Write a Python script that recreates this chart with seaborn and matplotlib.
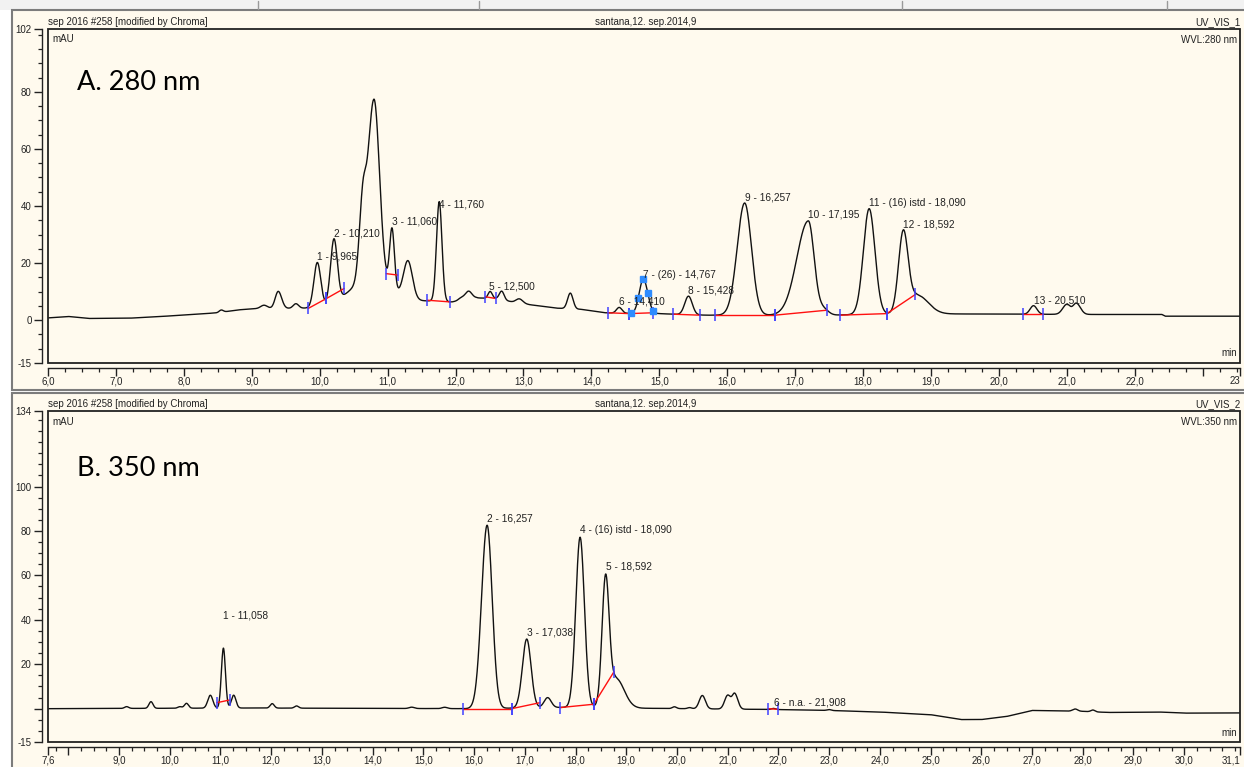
import numpy as np
import pandas as pd
import seaborn as sns
import matplotlib.pyplot as plt
from matplotlib.patches import Rectangle

# ---------- A. 280 nm ----------
# baseline drift (min, mAU)
a_base_t = [6.0, 6.3, 6.6, 7.2, 7.6, 8.0, 8.5, 8.8, 9.0, 9.8, 10.4, 11.0, 11.6, 11.95,
            12.3, 12.6, 12.85, 13.1, 13.5, 13.85, 14.2, 14.6, 15.0, 15.3, 15.7, 16.7,
            17.6, 18.35, 19.2, 20.3, 21.4, 22.4, 22.45, 23.6]
a_base_v = [0.8, 1.3, 0.6, 0.7, 1.2, 1.8, 2.6, 3.6, 4.0, 4.2, 5.0, 5.8, 6.6, 6.4,
            7.8, 7.6, 6.3, 5.4, 4.2, 3.8, 2.6, 2.35, 2.3, 2.0, 1.75, 1.75,
            1.8, 2.2, 2.2, 2.1, 2.0, 2.0, 1.4, 1.4]
# peaks: retention time, height above baseline, left / right width
a_peak_t = [8.55, 9.18, 9.39, 9.65, 9.965, 10.21, 10.63, 10.80, 10.75, 11.065, 11.30,
            11.76, 12.08, 12.19, 12.51, 12.68, 12.94, 13.69, 14.41, 14.765, 15.43,
            16.257, 17.195, 17.42, 18.09, 18.592, 18.80, 20.51, 21.0, 21.14]
a_peak_h = [0.8, 1.2, 6.0, 1.6, 15.5, 22.0, 21.0, 63.0, 9.0, 21.0, 13.0,
            35.0, 0.8, 2.8, 2.4, 3.0, 1.5, 5.5, 2.0, 12.0, 6.5,
            39.3, 33.0, 2.0, 37.0, 28.0, 6.5, 3.0, 3.5, 3.9]
a_peak_sl = [0.03, 0.05, 0.045, 0.04, 0.05, 0.05, 0.05, 0.095, 0.3, 0.035, 0.065,
             0.04, 0.04, 0.05, 0.03, 0.035, 0.05, 0.04, 0.04, 0.06, 0.055,
             0.11, 0.17, 0.07, 0.085, 0.07, 0.12, 0.05, 0.06, 0.05]
a_peak_sr = [0.03, 0.05, 0.05, 0.04, 0.05, 0.05, 0.045, 0.08, 0.3, 0.035, 0.065,
             0.04, 0.04, 0.05, 0.03, 0.035, 0.05, 0.04, 0.04, 0.065, 0.055,
             0.10, 0.085, 0.07, 0.085, 0.07, 0.16, 0.05, 0.05, 0.06]
a_labels = ["1 - 9,965", "2 - 10,210", "3 - 11,060", "4 - 11,760", "5 - 12,500",
            "6 - 14,410", "7 - (26) - 14,767", "8 - 15,428", "9 - 16,257",
            "10 - 17,195", "11 - (16) istd - 18,090", "12 - 18,592", "13 - 20,510"]
# integration baselines (start t, start mAU, end t, end mAU)
a_seg_t0 = [9.83, 10.10, 10.98, 11.58, 12.44, 14.24, 14.56, 15.20, 15.82, 16.70, 17.66, 18.35, 20.35]
a_seg_v0 = [4.1, 7.6, 16.3, 7.0, 8.2, 2.6, 2.3, 2.1, 1.75, 1.75, 1.75, 2.3, 2.1]
a_seg_t1 = [10.10, 10.36, 11.15, 11.92, 12.59, 14.56, 14.91, 15.60, 16.70, 17.47, 18.35, 18.77, 20.65]
a_seg_v1 = [7.6, 11.1, 15.8, 6.4, 7.6, 2.3, 2.6, 1.75, 1.75, 3.5, 2.3, 9.0, 2.1]
a_p7_marks = [14.58, 14.69, 14.765, 14.83, 14.91]

# ---------- B. 350 nm ----------
b_base_t = [7.6, 11.5, 16.0, 17.5, 18.4, 19.3, 22.0, 23.0, 24.0, 25.0, 25.6, 26.0,
            26.5, 27.0, 28.0, 28.5, 29.5, 30.0, 31.2]
b_base_v = [0.0, 0.3, 0.0, 0.5, 0.8, 0.2, -0.4, -0.8, -1.5, -2.7, -4.9, -4.9,
            -3.5, -0.8, -1.2, -1.7, -1.5, -2.0, -1.9]
b_peak_t = [9.15, 9.63, 10.2, 10.33, 10.80, 11.058, 11.26, 12.02, 12.5, 14.77, 15.42,
            16.257, 17.038, 17.45, 18.09, 18.592, 18.80, 19.95, 20.25, 20.5, 21.0,
            21.14, 21.9, 23.0, 27.85, 28.2]
b_peak_h = [0.8, 3.0, 0.7, 2.2, 5.8, 27.0, 5.8, 2.0, 1.0, 0.6, 0.6,
            82.5, 31.0, 4.5, 76.5, 57.0, 13.0, 0.8, 0.5, 6.0, 6.2,
            6.8, 0.5, 0.4, 1.0, 0.8]
b_peak_sl = [0.04, 0.04, 0.04, 0.04, 0.05, 0.04, 0.045, 0.04, 0.04, 0.05, 0.05,
             0.11, 0.085, 0.07, 0.085, 0.07, 0.12, 0.04, 0.04, 0.06, 0.06,
             0.05, 0.04, 0.04, 0.05, 0.04]
b_peak_sr = [0.04, 0.04, 0.04, 0.04, 0.05, 0.04, 0.045, 0.04, 0.04, 0.05, 0.05,
             0.10, 0.085, 0.07, 0.085, 0.07, 0.16, 0.04, 0.04, 0.06, 0.06,
             0.06, 0.04, 0.04, 0.05, 0.04]
b_labels = ["1 - 11,058", "2 - 16,257", "3 - 17,038", "4 - (16) istd - 18,090",
            "5 - 18,592", "6 - n.a. - 21,908"]
b_seg_t0 = [10.93, 15.78, 16.74, 17.70, 18.36, 21.80]
b_seg_v0 = [2.7, 0.0, 0.0, 0.5, 2.0, 0.0]
b_seg_t1 = [11.18, 16.74, 17.30, 18.36, 18.76, 22.00]
b_seg_v1 = [3.9, 0.0, 2.7, 2.0, 16.7, -0.3]

# label lift above the apex, pixels
a_lift = [3.4, 2, 3, -6, 2, 3, 1.3, 2.3, 2.6, 3.3, 3, 2.4, 2]
b_lift = [30, 4, 3.6, 4, 4, 2.5]

W, H = 1244, 767
CREAM = '#FFFAEE'
sns.set_theme(style="white")
plt.rcParams['font.family'] = ['Liberation Sans', 'DejaVu Sans']


def signal(t, base_t, base_v, pt, ph, psl, psr):
    y = np.interp(t, base_t, base_v)
    for c, h, sl, sr in zip(pt, ph, psl, psr):
        s = np.where(t < c, sl, sr)
        y = y + h * np.exp(-0.5 * ((t - c) / s) ** 2)
    return y


def px_axes(x0, y0, x1, y1):
    return fig.add_axes([x0 / W, 1 - y1 / H, (x1 - x0) / W, (y1 - y0) / H])


def fig_rect(x0, y0, x1, y1, **kw):
    fig.add_artist(Rectangle((x0 / W, 1 - y1 / H), (x1 - x0) / W, (y1 - y0) / H,
                             transform=fig.transFigure, **kw))


def fig_txt(x, y, s, **kw):
    fig.text(x / W, 1 - y / H, s, **kw)


fig = plt.figure(figsize=(W / 100, H / 100), dpi=100)
fig.patch.set_facecolor('white')

# window chrome
fig_rect(0, 0, W, 10, fc='#F2F2F2', ec='none', zorder=0)
for xl in [258, 479, 902, 1167]:
    fig.add_artist(plt.Line2D([xl / W, xl / W], [1 - 1 / H, 1 - 9 / H], color='#9a9a9a', lw=1))
fig_rect(12, 10, W + 10, 390, fc=CREAM, ec='#7c7c7c', lw=1.5, zorder=0)
fig_rect(12, 393, W + 10, H + 10, fc=CREAM, ec='#7c7c7c', lw=1.5, zorder=0)

axA = px_axes(48, 29, 1240, 363)
axB = px_axes(48, 411, 1240, 742)

panels = [
    (axA, a_base_t, a_base_v, a_peak_t, a_peak_h, a_peak_sl, a_peak_sr, (6.0, 23.55), (-15, 102),
     a_labels, a_lift, (a_seg_t0, a_seg_v0, a_seg_t1, a_seg_v1)),
    (axB, b_base_t, b_base_v, b_peak_t, b_peak_h, b_peak_sl, b_peak_sr, (7.6, 31.1), (-15, 134),
     b_labels, b_lift, (b_seg_t0, b_seg_v0, b_seg_t1, b_seg_v1)),
]

for ax, bt, bv, pt, ph, psl, psr, xl, yl, labels, lifts, segs in panels:
    t = np.arange(xl[0], xl[1] + 0.004, 0.004)
    y = signal(t, bt, bv, pt, ph, psl, psr)
    df = pd.DataFrame({'time': t, 'mAU': y})
    sns.lineplot(data=df, x='time', y='mAU', ax=ax, color='#111111', lw=1.0,
                 estimator=None, errorbar=None, zorder=2)
    ax.set_facecolor(CREAM)
    ax.set_xlim(*xl)
    ax.set_ylim(*yl)
    ax.set_xlabel('')
    ax.set_ylabel('')

    t0, v0, t1, v1 = segs
    for a, b, c, d in zip(t0, v0, t1, v1):
        ax.plot([a, c], [b, d], color='#FF1010', lw=1.0, zorder=3)
    ends_t = list(t0) + list(t1)
    ends_v = list(v0) + list(v1)
    ax.plot(ends_t, ends_v, ls='none', marker='|', ms=8, mew=1.1, color='#4040FF', zorder=4)

    for lab, lift in zip(labels, lifts):
        rt = float(lab.split(' - ')[-1].replace(',', '.'))
        win = (t > rt - 0.04) & (t < rt + 0.04)
        top = y[win].max()
        ax.annotate(lab, xy=(rt, top), xytext=(0, lift * 0.72), textcoords='offset points',
                    ha='left', va='baseline', fontsize=7.3, color='#222222', zorder=6)

    # frame and offset tick axes
    for s in ['top', 'right']:
        ax.spines[s].set_visible(False)
    ax.spines['left'].set_position(('outward', 6 * 0.72))
    ax.spines['bottom'].set_position(('outward', 5 * 0.72))
    for s in ['left', 'bottom']:
        ax.spines[s].set_color('#222222')
        ax.spines[s].set_linewidth(1.0)
    ax.add_patch(Rectangle((0, 0), 1, 1, transform=ax.transAxes, fill=False,
                           ec='#222222', lw=1.3, clip_on=False, zorder=7))
    ax.tick_params(axis='both', which='major', direction='out', length=6, width=1,
                   labelsize=7, pad=1.5, colors='#222222', left=True, bottom=True)
    ax.tick_params(axis='x', which='major', pad=0)
    ax.tick_params(axis='both', which='minor', direction='out', length=3, width=0.9,
                   colors='#222222', left=True, bottom=True)

# peak 7 peak-purity marks
tA = np.arange(6.0, 23.554, 0.004)
yA = signal(tA, a_base_t, a_base_v, a_peak_t, a_peak_h, a_peak_sl, a_peak_sr)
axA.plot(a_p7_marks, np.interp(a_p7_marks, tA, yA), ls='none', marker='s', ms=4.5,
         color='#2E8CFF', zorder=5)

# ticks panel A
xa = [6.0 + i for i in range(18)]
axA.set_xticks(xa + [23.55], [f"{v:.1f}".replace('.', ',') for v in xa[:-1]] + ['', '23'])
axA.get_xticklabels()[-1].set_ha('right')
axA.set_xticks(np.arange(6.0, 23.55, 0.25), minor=True)
ya = [-15, 0, 20, 40, 60, 80, 102]
axA.set_yticks(ya, [str(v) for v in ya])
axA.set_yticks(np.arange(-15, 101, 5), minor=True)

# ticks panel B
xb = [7.6, 8.0] + [float(v) for v in range(9, 31)] + [31.1]
xb_lab = ['7,6', ''] + [f"{v:.1f}".replace('.', ',') for v in range(9, 31)] + ['31,1']
axB.set_xticks(xb, xb_lab)
axB.get_xticklabels()[-1].set_ha('right')
axB.set_xticks(np.arange(7.75, 31.1, 0.25), minor=True)
yb = [-15, 0, 20, 40, 60, 80, 100, 134]
axB.set_yticks(yb, ['-15', '', '20', '40', '60', '80', '100', '134'])
axB.set_yticks(np.arange(-15, 131, 5), minor=True)

# header and in-plot texts
small = dict(fontsize=7, color='#222222', va='center')
for hy, tag in [(22, 'UV_VIS_1'), (404, 'UV_VIS_2')]:
    fig_txt(48, hy, 'sep 2016 #258 [modified by Chroma]', ha='left', **small)
    fig_txt(646, hy, 'santana,12. sep.2014,9', ha='center', **small)
    fig_txt(1240, hy, tag, ha='right', **small)
fig_txt(52, 39, 'mAU', ha='left', **small)
fig_txt(1237, 40, 'WVL:280 nm', ha='right', **small)
fig_txt(1237, 353, 'min', ha='right', **small)
fig_txt(52, 422, 'mAU', ha='left', **small)
fig_txt(1237, 422, 'WVL:350 nm', ha='right', **small)
fig_txt(1237, 733, 'min', ha='right', **small)
fig_txt(77, 83, 'A. 280 nm', ha='left', va='center', fontsize=19.5, family='Lato', color='black')
fig_txt(77, 468, 'B. 350 nm', ha='left', va='center', fontsize=19.5, family='Lato', color='black')

fig.savefig('out.png', dpi=100)
